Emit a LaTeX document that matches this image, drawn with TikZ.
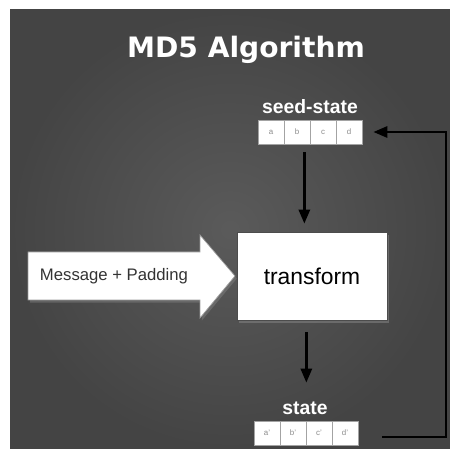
\documentclass[tikz,border=0pt]{standalone}
\usepackage{fontspec}
\setmainfont{Liberation Sans}
\newfontfamily\titlefont{DejaVu Sans}
\usepackage{tikz}
\usetikzlibrary{arrows.meta}
\usetikzlibrary{shadows}
\definecolor{ColBoard}{RGB}{68,68,68}
\definecolor{ColCell}{RGB}{140,140,140}
\tikzstyle{CellState}=[rectangle,draw=ColCell!80,fill=white,minimum width=0.52cm,
minimum height=0.48cm,inner sep=0pt,text=ColCell,font=\fontsize{4.5}{5}\selectfont]
\tikzstyle{LabelState}=[text=white,font=\bfseries\fontsize{11}{13}\selectfont]
\tikzstyle{EdgeFlow}=[black,line width=1.6pt,-{Triangle[length=2.8mm,width=2.2mm]}]
\tikzstyle{BoxTransform}=[rectangle,fill=white,draw=black!70,minimum width=3cm,
minimum height=1.76cm,font=\fontsize{13}{15}\selectfont,
drop shadow={shadow xshift=1pt,shadow yshift=-1.5pt,opacity=.6}]

\begin{document}
\begin{tikzpicture}[x=0.02cm,y=-0.02cm]
        \useasboundingbox (0,0) rectangle (450,449);
        \shade[inner color=ColBoard!88!white,outer color=ColBoard] (10,10) rectangle (450,449);
        % title
        \node[text=white,font=\titlefont\bfseries\fontsize{16}{19}\selectfont](title)at(246,50){MD5 Algorithm};
        % seed state
        \node[LabelState](seedlbl)at(310,107){seed-state};
        \node[CellState](seedA)at(271,132){a};
        \node[CellState](seedB)at(297,132){b};
        \node[CellState](seedC)at(323,132){c};
        \node[CellState](seedD)at(349,132){d};
        % transform
        \node[BoxTransform](trans)at(312,276){transform};
        % message arrow
        \filldraw[fill=white,draw=black!40,drop shadow={shadow xshift=1pt,shadow yshift=-1.5pt,opacity=.5}]
            (28,252)--(200,252)--(200,235)--(235,276)--(200,318)--(200,300)--(28,300)--cycle;
        \node[text=black!80,font=\fontsize{9.5}{11}\selectfont](msg)at(114,276){Message + Padding};
        % state
        \node[LabelState](statelbl)at(305,408){state};
        \node[CellState](stateA)at(267,433){a'};
        \node[CellState](stateB)at(293,433){b'};
        \node[CellState](stateC)at(319,433){c'};
        \node[CellState](stateD)at(345,433){d'};
        % flow
        \draw[EdgeFlow,shorten <=0.16cm,shorten >=0.16cm]([xshift=-0.12cm]seedB.south east)--([xshift=-0.12cm]seedB.south east |- trans.north);
        \draw[EdgeFlow,shorten <=0.24cm,shorten >=0.76cm](stateB.east |- trans.south)--(stateB.north east);
        \coordinate(fbA)at(382,437);
        \coordinate(fbB)at(446,132);
        \draw[EdgeFlow,shorten >=0.22cm](fbA)-|(fbB)--(seedD.east);
    \end{tikzpicture}
\end{document}
